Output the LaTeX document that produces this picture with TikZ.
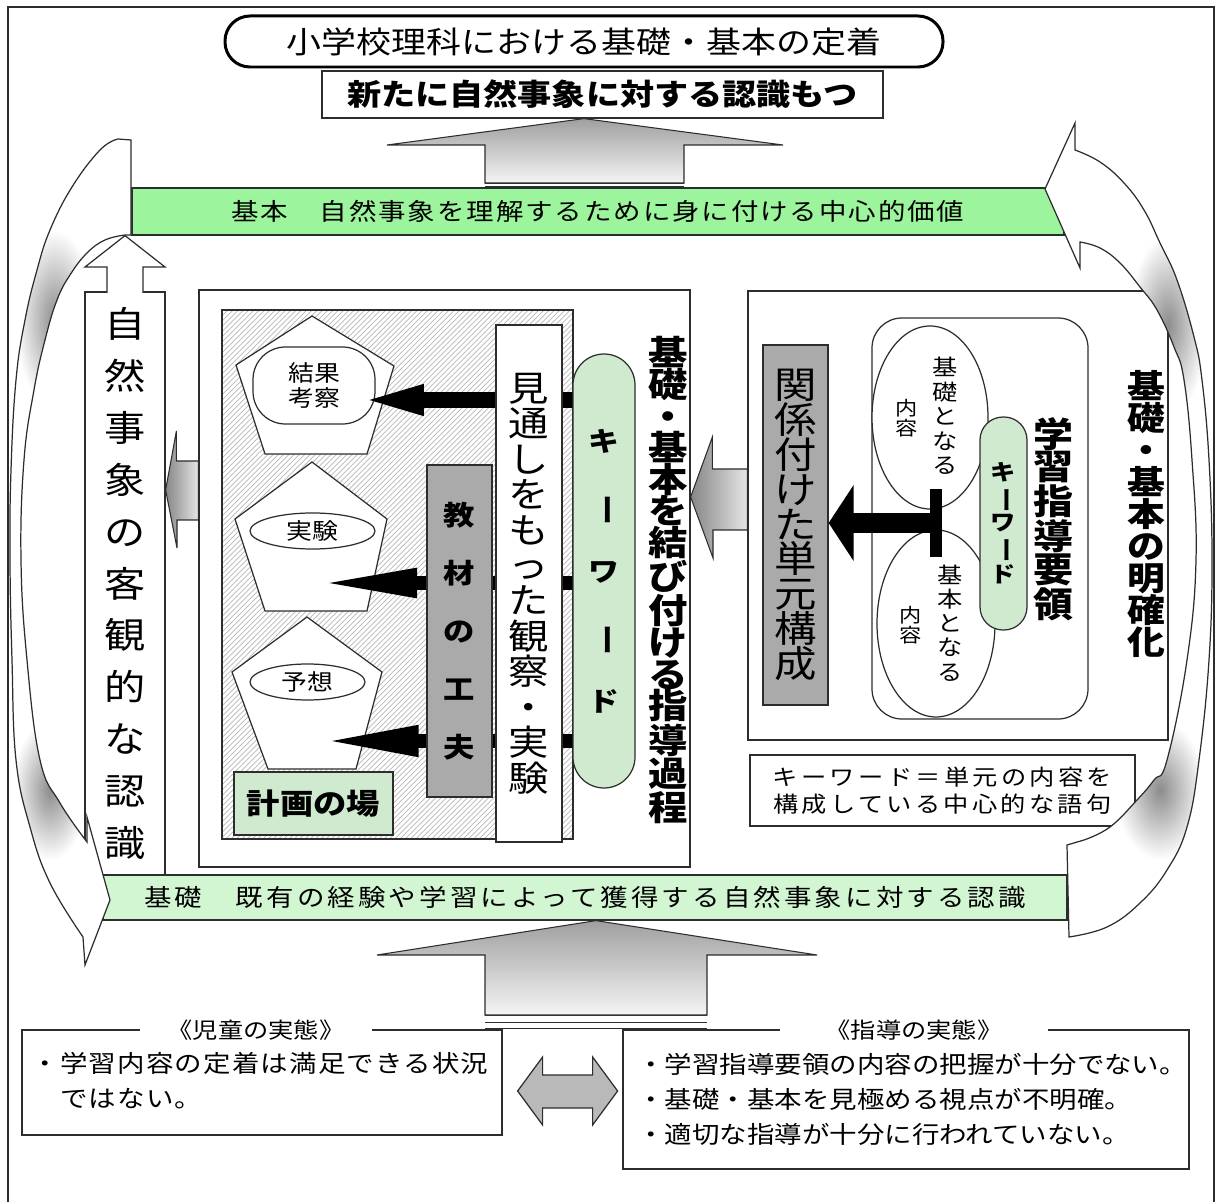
\documentclass[tikz,border=0pt]{standalone}
\usepackage{fontspec}
\usepackage{graphicx}
\setmainfont{Noto Sans CJK JP}[FakeStretch=1.15]
\usetikzlibrary{shapes,arrows,arrows.meta,calc,patterns}

\definecolor{topgreen}{RGB}{156,244,156}
\definecolor{lowgreen}{RGB}{210,245,210}
\definecolor{keygreen}{RGB}{208,234,208}
\definecolor{padgray}{RGB}{170,170,170}
\definecolor{inkgray}{RGB}{45,45,45}

\newcommand{\vbar}{\rotatebox[origin=c]{-90}{ー}}
\newcommand{\fsz}[2]{\fontsize{#1}{#2}\selectfont}
\newcommand{\spaced}[1]{\addfontfeatures{LetterSpace=#1}}

% the two big curved arrows round the picture
\newcommand{\leftarc}{(131,235) -- (131,140) -- plot[smooth, tension=0.7] coordinates {(118,139) (100,150) (72,187) (50,230) (37,270) (25,320) (16,380) (11,470) (10,560) (12,660) (16,760) (30,827) (50,883) (83,937)} -- (85,965) -- (110,900) -- (87,817) -- plot[smooth, tension=0.7] coordinates {(87,842) (60,803) (40,760) (27,660) (21,560) (24,460) (34,390) (45,340) (57,300) (70,275) (87,253) (105,240) (125,235)} -- cycle}
\newcommand{\rightarc}{(1045,189) -- (1075,123) -- plot[smooth, tension=0.7] coordinates {(1075,150) (1100,162) (1124,183) (1144,210) (1160,243) (1177,280) (1194,337) (1202,380) (1209,460) (1212,560) (1209,660) (1199,760) (1187,827) (1167,870) (1140,903) (1107,927) (1069,937)} -- (1067,845) -- plot[smooth, tension=0.7] coordinates {(1084,840) (1110,827) (1137,800) (1154,780) (1167,760) (1187,660) (1196,560) (1192,460) (1184,380) (1174,347) (1157,310) (1140,287) (1120,263) (1100,248) (1080,242)} -- (1080,268) -- cycle}

\pgfdeclarelayer{back}
\pgfsetlayers{back,main}

\tikzset{size/.style 2 args={minimum width=#1*0.02cm, minimum height=#2*0.02cm}}
\tikzstyle{line} = [draw=inkgray, line width=0.7pt]
\tikzstyle{block} = [draw=inkgray, line width=0.7pt, rectangle, fill=white, inner sep=0pt, align=center]
\tikzstyle{pad} = [block, fill=padgray]
\tikzstyle{pill} = [block, fill=keygreen]
\tikzstyle{vtext} = [align=center, inner sep=0pt]
\tikzstyle{oval} = [block, rounded corners=0.65cm]
\tikzstyle{egg} = [block, ellipse]
\tikzstyle{head} = [fill=white, inner sep=0pt, minimum height=0.5cm, font=\fsz{12.5}{14}]
\tikzstyle{shadeup} = [top color=gray!75, bottom color=gray!8, draw=inkgray, line width=0.6pt]
\tikzstyle{shadeleft} = [left color=gray!95, right color=gray!20, draw=inkgray, line width=0.6pt]

\begin{document}
\begin{tikzpicture}[x=0.02cm, y=-0.02cm, font=\fsz{13.6}{16}]
\useasboundingbox (0,0) rectangle (1217,1202);

% frame
\draw[line, line width=0.8pt] (8,1202) -- (8,7) -- (1214,7) -- (1214,1202);

% goal
\node[block, draw=black, line width=1.7pt, rounded corners=0.5cm, size={718}{51}, font=\fsz{17.3}{18}] (goal) at (584,41.5) {小学校理科における基礎・基本の定着};
\node[block, size={561}{47}, font=\fsz{16.9}{18}\bfseries] (aware) at (602.5,94.5) {新たに自然事象に対する認識もつ};

\fill[white] (485,183) rectangle (684,188);
\draw[line, line width=0.5pt] (485,183) -- (684,183) (485,186) -- (684,186);
\shade[shadeup] (goal.south |- aware.south) -- (783,145) -- (684,145) -- (684,183) -- (485,183) -- (485,145) -- (387,145) -- cycle;

% bands
\node[block, fill=topgreen, size={932}{47}, font=\fsz{13.6}{16}\spaced{8}] (kihon) at (598,211.5) {基本　自然事象を理解するために身に付ける中心的価値};
\node[block, fill=lowgreen, size={964}{45}, font=\fsz{13.6}{16}\spaced{13}] (kiso) at (585,897.5) {基礎　既有の経験や学習によって獲得する自然事象に対する認識};

% left column
\node[block, size={80}{583}, font=\fsz{20.4}{29.5}] (nat) at (125,583.5) {自\\然\\事\\象\\の\\客\\観\\的\\な\\認\\識};
\path[line, fill=white] (107,293) -- (107,267) -- (85,267) -- (nat.north |- kihon.south) -- (165,267) -- (143,267) -- (143,293);

% planning part
\node[pad, size={65}{332}, font=\fsz{15.5}{33}\bfseries] (mat) at (459.5,631) {教\\材\\の\\工\\夫};
\node[block, size={66}{517}, font=\fsz{20}{20.2}] (obs) at (529,583.5) {見\\通\\し\\を\\も\\っ\\た\\観\\察\\・\\実\\験};
\node[pill, rounded corners=0.62cm, size={62}{434}, font=\fsz{15.3}{37}\bfseries] (key) at (604,571) {キ\\\vbar\\ワ\\\vbar\\ド};
\node[vtext, font=\fsz{19.5}{18}\bfseries] (link) at (668,580) {基\\礎\\・\\基\\本\\を\\結\\び\\付\\け\\る\\指\\導\\過\\程};
\node[block, fill=keygreen, size={159}{63}, font=\fsz{16.5}{18}\bfseries] (place) at (313.5,803.5) {計画の場};

\begin{pgfonlayer}{back}
\node[block, size={491}{577}] (plan) at (444.5,578.5) {};
\node[draw=inkgray, line width=0.7pt, inner sep=0pt, pattern=north east lines, pattern color=gray!55, size={351}{529}] (lab) at (397.5,574.5) {};
\filldraw[line, fill=white] (312,316) -- (394,366) -- (367,454) -- (265,454) -- (236,365) -- cycle;
\filldraw[line, fill=white] (312,462) -- (387,519) -- (367,611) -- (265,611) -- (235,519) -- cycle;
\filldraw[line, fill=white] (307,617) -- (382,672) -- (356,769) -- (268,769) -- (232,672) -- cycle;
\node[oval, size={122}{77}, font=\fsz{12.8}{14.7}] (result) at (314,385.5) {結果\\考察};
\node[egg, size={125}{36}, font=\fsz{12.8}{14}] (exper) at (312.5,531) {実験};
\node[egg, size={115}{36}, font=\fsz{12.8}{14}] (guess) at (307.5,682) {予想};
\coordinate (t1) at (343,400);
\coordinate (t2) at (317,583);
\coordinate (t3) at (322,741);
\draw[line width=9.6pt, -{Triangle[length=46pt, width=14pt]}] (key.center |- t1) -- (t1);
\draw[line width=7.5pt, -{Triangle[length=57pt, width=15pt]}] (key.center |- t2) -- (t2);
\draw[line width=7.5pt, -{Triangle[length=55pt, width=16pt]}] (key.center |- t3) -- (t3);
\end{pgfonlayer}

\shade[shadeleft] (plan.west |- 0,461) -- ++(-22,0) -- ++(0,-30) -- (nat.east |- 0,490) -- (177,548) -- ++(0,-28) -- (plan.west |- 0,520) -- cycle;

% course of study part
\node[block, size={420}{449}] (lead) at (958,515.5) {};
\shade[shadeleft] (lead.west |- 0,469) -- ++(-35,0) -- ++(0,-32) -- (plan.east |- 0,497) -- (713,558) -- ++(0,-28) -- (lead.west |- 0,530) -- cycle;
\node[pad, size={65}{360}, font=\fsz{21}{19.8}] (unit) at (795.5,525) {関\\係\\付\\け\\た\\単\\元\\構\\成};
\node[block, rounded corners=0.6cm, size={216}{401}] (guide) at (980,518.5) {};
\node[egg, size={116}{183}] (base1) at (930,417.5) {};
\node[egg, size={118}{187}] (base2) at (936,623.5) {};
\node[vtext, font=\fsz{12.5}{14}] (b1a) at (945,416) {基\\礎\\と\\な\\る};
\node[vtext, font=\fsz{11}{11.5}] (b1b) at (907,418) {内\\容};
\node[vtext, font=\fsz{12.5}{13.8}] (b2a) at (950,623) {基\\本\\と\\な\\る};
\node[vtext, font=\fsz{11}{11.5}] (b2b) at (911,625) {内\\容};
\node[pill, rounded corners=0.46cm, size={47}{213}, font=\fsz{12.5}{14.2}\bfseries] (key2) at (1003.5,523.5) {キ\\\vbar\\ワ\\\vbar\\ド};
\node[fill=black, inner sep=0pt, size={12}{68}] (tbar) at (936,523) {};
\draw[line width=11.9pt, -{Triangle[length=14.2pt, width=42.5pt]}] (tbar.west) -- (unit.east |- tbar.west);
\node[vtext, font=\fsz{19.8}{18.7}\bfseries] (course) at (1053,519) {学\\習\\指\\導\\要\\領};
\node[vtext, font=\fsz{18.7}{18.2}\bfseries] (clarify) at (1146,514) {基\\礎\\・\\基\\本\\の\\明\\確\\化};
\node[block, size={385}{71}, font=\fsz{12.5}{15.3}\spaced{15}] (defn) at (942.5,790.5) {キーワード＝単元の内容を\\構成している中心的な語句};

% present state
\fill[white] (485,1015) rectangle (707,1028);
\draw[line, line width=0.5pt] (485,1015) -- (707,1015) (485,1022) -- (707,1022) (485,1028) -- (707,1028);
\shade[shadeup] (kiso.south -| 596,0) -- (817,955) -- (707,955) -- (707,1015) -- (485,1015) -- (485,955) -- (377,955) -- cycle;

\node[block, size={480}{105}] (child) at (262,1082.5) {};
\node[head, minimum width=4.66cm] (childhead) at (256,1030) {《児童の実態》};
\node[anchor=north west, align=left, inner sep=0pt, font=\fsz{13.6}{19.8}\spaced{5}] (childtext) at (31,1052) {・学習内容の定着は満足できる状況\\　ではない。};

\node[block, size={566}{139}] (teach) at (906,1099.5) {};
\node[head, minimum width=5.36cm] (teachhead) at (914,1030) {《指導の実態》};
\node[anchor=north west, align=left, inner sep=0pt, font=\fsz{13.6}{19.8}] (teachtext) at (637,1053) {・学習指導要領の内容の把握が十分でない。\\・基礎・基本を見極める視点が不明確。\\・適切な指導が十分に行われていない。};

\filldraw[line, fill=gray!55] ($(child.east |- 0,1091)+(15,0)$) -- ++(25,-34) -- ++(0,18) -- ++(50,0) -- ++(0,-18) -- ++(25,34) -- ++(-25,34) -- ++(0,-17) -- ++(-50,0) -- ++(0,17) -- cycle;

% curved arrows
\begin{scope}
\clip \leftarc;
\fill[white] (0,100) rectangle (140,1000);
\shade[inner color=gray!90, outer color=white] (55,320) ellipse (0.8cm and 1.8cm);
\shade[inner color=gray!90, outer color=white] (50,790) ellipse (0.76cm and 1.4cm);
\end{scope}
\draw[line] \leftarc;
\begin{scope}
\clip \rightarc;
\fill[white] (1030,100) rectangle (1217,1000);
\shade[inner color=gray!90, outer color=white] (1168,325) ellipse (0.8cm and 1.8cm);
\shade[inner color=gray!90, outer color=white] (1160,790) ellipse (0.9cm and 1.4cm);
\end{scope}
\draw[line] \rightarc;
\end{tikzpicture}
\end{document}
